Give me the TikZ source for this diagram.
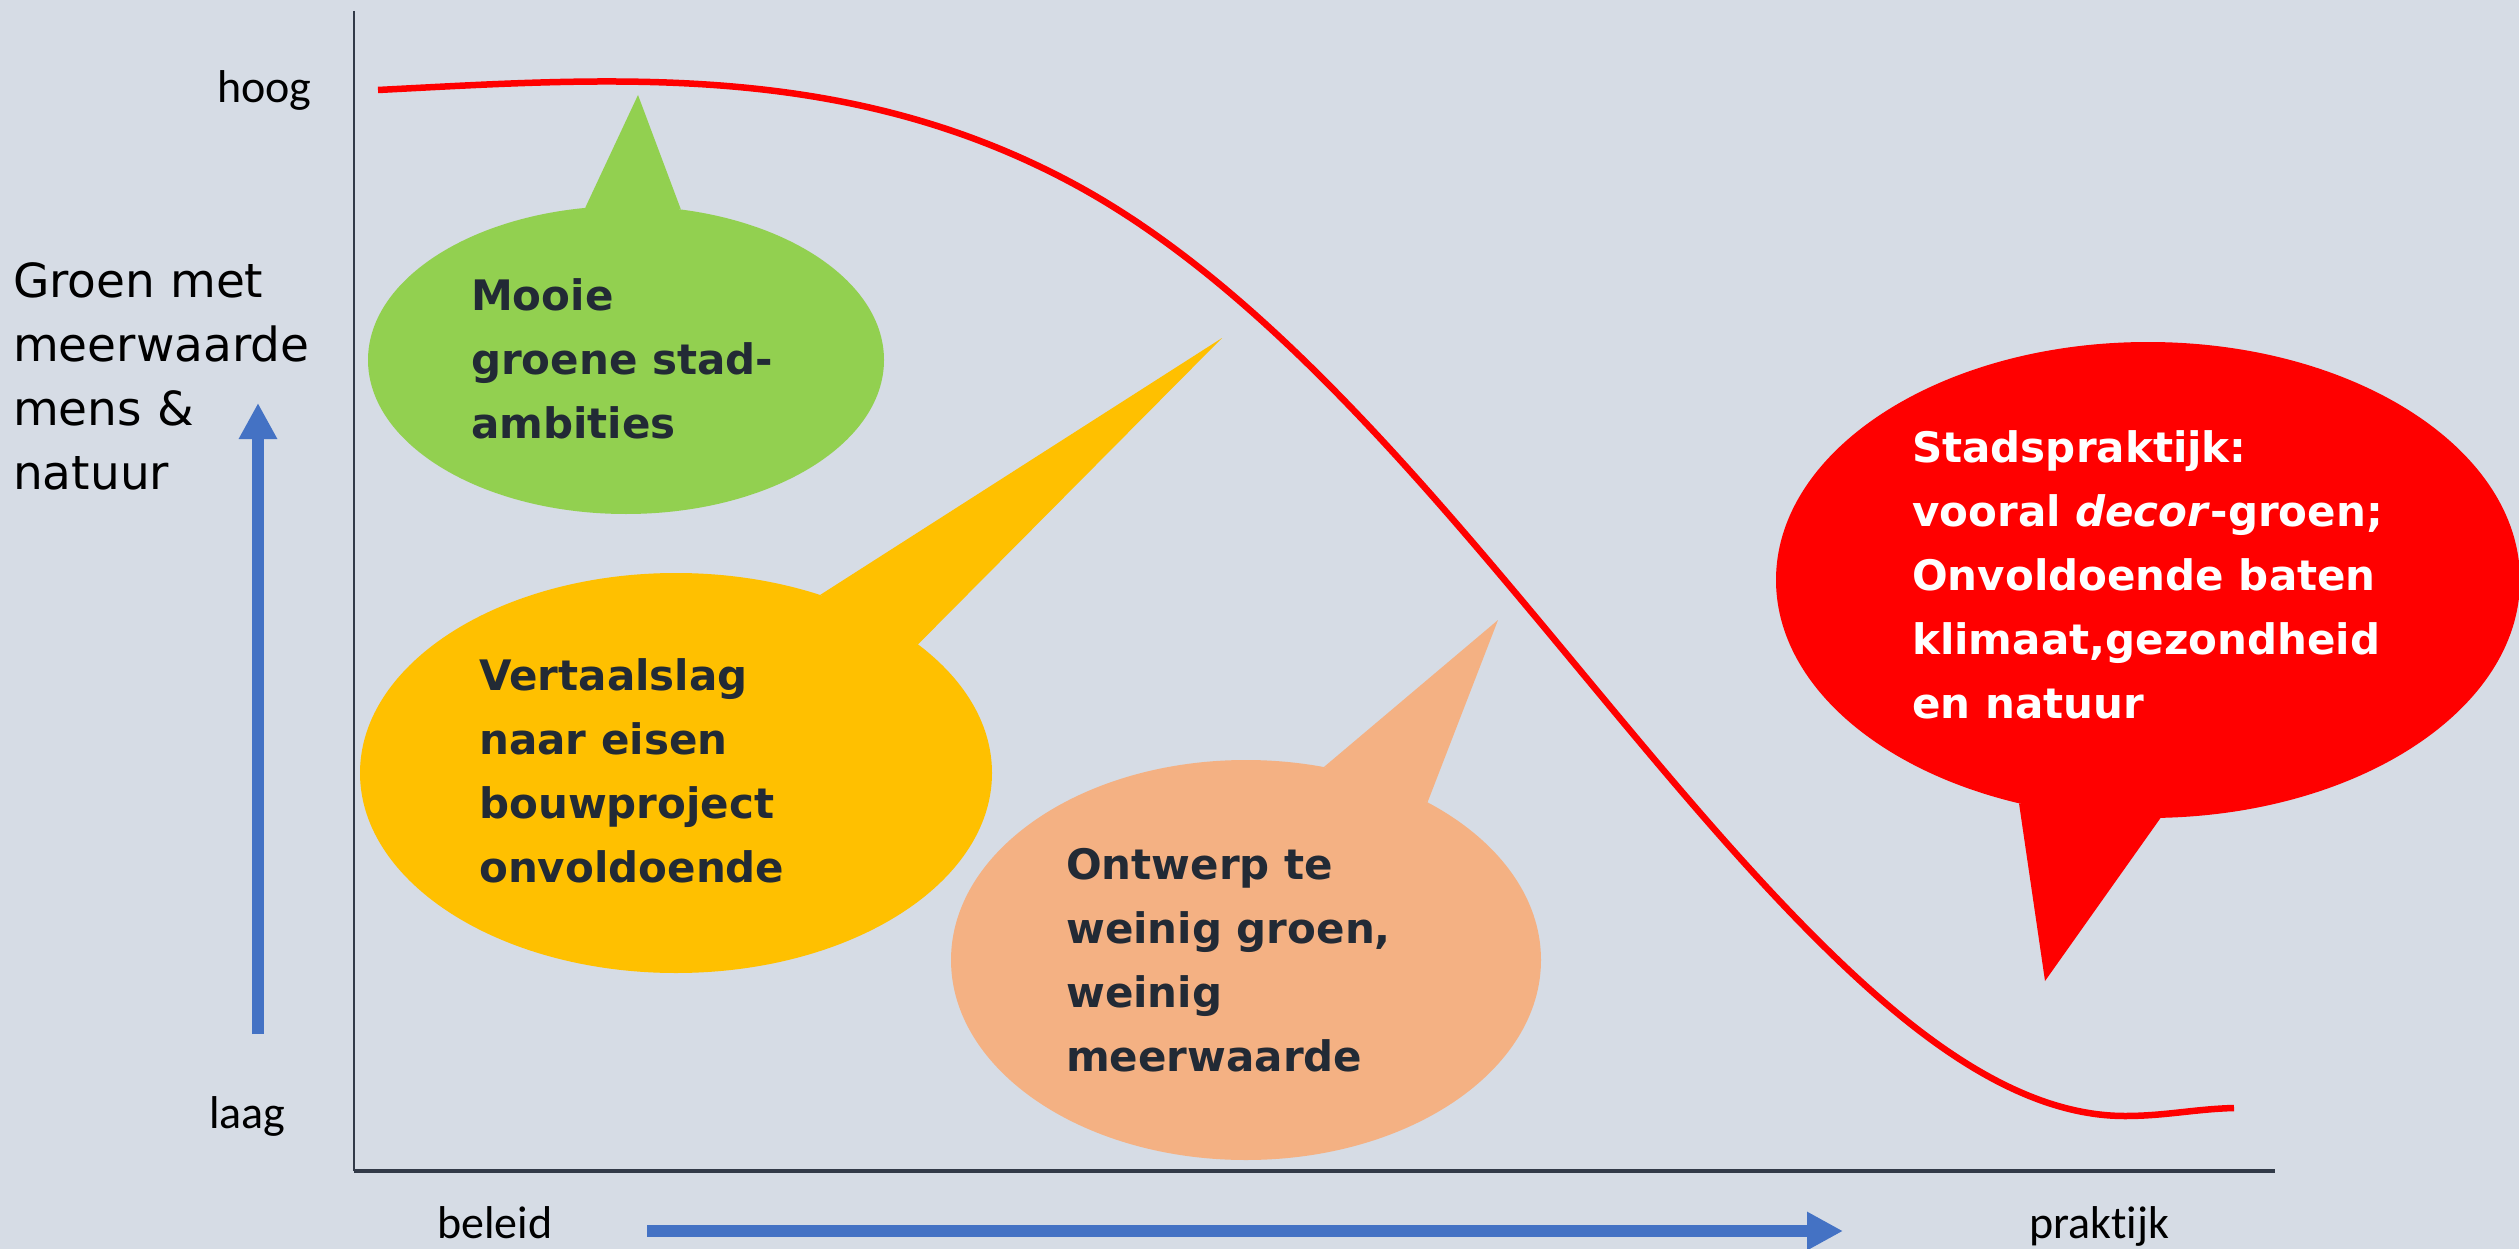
\documentclass[tikz,border=0pt]{standalone}
\usepackage{fontspec}
\setmainfont{DejaVu Sans}
\newfontfamily\calibri[Ligatures=NoCommon]{Carlito}
\usetikzlibrary{shapes.geometric,arrows.meta}

\definecolor{achtergrond}{RGB}{214,220,229}
\definecolor{asgrijs}{RGB}{50,58,72}
\definecolor{blauw}{RGB}{68,114,196}
\definecolor{groen}{RGB}{146,208,80}
\definecolor{geel}{RGB}{255,192,0}
\definecolor{zalm}{RGB}{244,177,131}
\definecolor{rood}{RGB}{255,0,0}
\definecolor{tekst}{RGB}{34,42,53}

\newcommand{\regels}[1]{\begin{tabular}[t]{@{}l@{}}#1\end{tabular}}

\begin{document}
\begin{tikzpicture}[x=1pt,y=-1pt,
    bubble/.style={ellipse,inner sep=0pt,draw=none},
    bubbletext/.style={anchor=base west,inner sep=0pt,text=tekst,
      font=\fontsize{42}{64}\selectfont\bfseries},
    aslabel/.style={anchor=base west,inner sep=0pt,
      font=\calibri\fontsize{46}{56}\selectfont},
    pijl/.style={blauw,line width=12pt,-{Triangle[length=36pt,width=36pt]}}]
  \fill[achtergrond] (0,0) rectangle (2519,1249);
  \useasboundingbox (0,0) rectangle (2519,1249);

  % assen
  \coordinate (ytop) at (354,11);
  \coordinate (oorsprong) at (354,1171);
  \coordinate (xeind) at (2275,1171);
  \draw[asgrijs,line width=2.5pt] (ytop) -- (oorsprong);
  \draw[asgrijs,line width=3.5pt] (oorsprong) -- (xeind);

  \node[aslabel] (hoog) at (217,103) {hoog};
  \node[aslabel] (laag) at (209,1128) {laag};
  \node[aslabel] (beleid) at (437,1238) {beleid};
  \node[aslabel] (praktijk) at (2029,1238) {praktijk};
  \node[anchor=base west,inner sep=0pt,font=\fontsize{47}{64}\selectfont] (yas)
    at (13,298) {\regels{Groen met\\meerwaarde\\mens \&\\natuur}};

  \coordinate (ypijlvan) at (258,1034);
  \coordinate (ypijlnaar) at (258,403);
  \draw[pijl] (ypijlvan) -- (ypijlnaar);
  \coordinate (xpijlvan) at (647,1231);
  \coordinate (xpijlnaar) at (1843,1231);
  \draw[pijl] (xpijlvan) -- (xpijlnaar);

  % ballonnen
  \node[bubble,fill=groen,minimum width=516pt,minimum height=308pt] (mooie) at (626,360) {};
  \coordinate (mooiepunt) at (638,95);
  \fill[groen] (mooie.105) -- (mooiepunt) -- (mooie.70) -- cycle;
  \node[bubbletext] (mooietekst) at (471,310) {\regels{Mooie\\groene stad-\\ambities}};

  \node[bubble,fill=geel,minimum width=632pt,minimum height=400pt] (vertaal) at (676,773) {};
  \coordinate (vertaalpunt) at (1222,338);
  \fill[geel] (vertaal.51) -- (vertaalpunt) -- (vertaal.28) -- cycle;
  \node[bubbletext] (vertaaltekst) at (479,690) {\regels{Vertaalslag\\naar eisen\\bouwproject\\onvoldoende}};

  \node[bubble,fill=zalm,minimum width=590pt,minimum height=400pt] (ontwerp) at (1246,960) {};
  \coordinate (ontwerppunt) at (1498,620);
  \fill[zalm] (ontwerp.68) -- (ontwerppunt) -- (ontwerp.41) -- cycle;
  \node[bubbletext] (ontwerptekst) at (1066,879) {\regels{Ontwerp te\\weinig groen,\\weinig\\meerwaarde}};

  \node[bubble,fill=rood,minimum width=744pt,minimum height=476pt] (praktijkballon) at (2148,580) {};
  \coordinate (praktijkpunt) at (2045,981);
  \fill[rood] (praktijkballon.240) -- (praktijkpunt) -- (praktijkballon.273) -- cycle;
  \node[bubbletext,text=white] (praktijktekst) at (1912,462)
    {\regels{Stadspraktijk:\\vooral \textit{decor}-groen;\\Onvoldoende baten\\klimaat,gezondheid\\en natuur}};

  % curve
  \draw[rood,line width=6.5pt] (378,90) .. controls (610,78) and (844,60) .. (1074,184)
    .. controls (1374,346) and (1617,762) .. (1867,987)
    .. controls (1947,1059) and (2035,1116) .. (2125,1116)
    .. controls (2165,1116) and (2195,1109) .. (2234,1108);
\end{tikzpicture}
\end{document}
